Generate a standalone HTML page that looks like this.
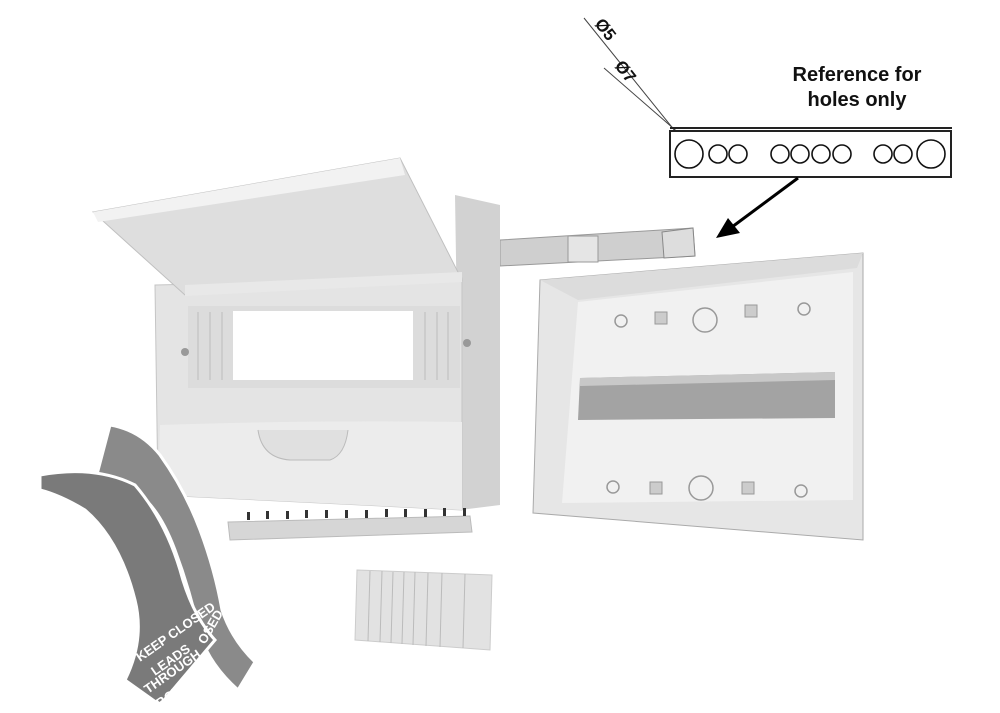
<!DOCTYPE html>
<html><head><meta charset="utf-8"><style>
html,body{margin:0;padding:0;background:#fff;}
svg{display:block;}
text{font-family:"Liberation Sans",sans-serif;}
</style></head><body>
<svg width="1000" height="713" viewBox="0 0 1000 713" xmlns="http://www.w3.org/2000/svg">
<!-- hole reference -->
<line x1="584" y1="18" x2="700" y2="162" stroke="#444" stroke-width="1"/>
<line x1="604" y1="68" x2="712" y2="162" stroke="#444" stroke-width="1"/>
<text x="594" y="24" font-size="17" font-weight="bold" transform="rotate(52 594 24)" fill="#111">Ø5</text>
<text x="614" y="66" font-size="17" font-weight="bold" transform="rotate(52 614 66)" fill="#111">Ø7</text>
<text x="857" y="81" font-size="20" font-weight="bold" text-anchor="middle" fill="#111">Reference for</text>
<text x="857" y="106" font-size="20" font-weight="bold" text-anchor="middle" fill="#111">holes only</text>
<line x1="670" y1="128" x2="952" y2="128" stroke="#222" stroke-width="2"/>
<rect x="670" y="131" width="281" height="46" fill="#fff" stroke="#222" stroke-width="2"/>
<g fill="none" stroke="#111" stroke-width="1.6">
<circle cx="689" cy="154" r="14"/><circle cx="718" cy="154" r="9"/><circle cx="738" cy="154" r="9"/>
<circle cx="780" cy="154" r="9"/><circle cx="800" cy="154" r="9"/><circle cx="821" cy="154" r="9"/><circle cx="842" cy="154" r="9"/>
<circle cx="883" cy="154" r="9"/><circle cx="903" cy="154" r="9"/><circle cx="931" cy="154" r="14"/>
</g>
<line x1="798" y1="178" x2="732" y2="227" stroke="#000" stroke-width="3"/>
<polygon points="716,238 728,218 740,233" fill="#000"/>
<!-- busbar -->
<polygon points="500,240 693,228 695,256 500,266" fill="#cfcfcf" stroke="#999"/>
<rect x="568" y="236" width="30" height="26" fill="#e5e5e5" stroke="#999"/>
<polygon points="662,232 693,228 695,256 664,258" fill="#ddd" stroke="#888"/>
<!-- left enclosure body -->
<polygon points="455,195 500,205 500,505 460,510" fill="#d2d2d2"/>
<polygon points="155,285 462,278 462,510 158,495" fill="#e4e4e4" stroke="#c5c5c5"/>
<path d="M160,425 Q300,420 462,422 L462,510 L158,495 Z" fill="#ececec"/>
<rect x="188" y="306" width="272" height="82" fill="#dcdcdc"/>
<rect x="233" y="311" width="180" height="69" fill="#fff"/>
<g stroke="#bbb"><line x1="198" y1="312" x2="198" y2="380"/><line x1="210" y1="312" x2="210" y2="380"/><line x1="222" y1="312" x2="222" y2="380"/>
<line x1="425" y1="312" x2="425" y2="380"/><line x1="437" y1="312" x2="437" y2="380"/><line x1="448" y1="312" x2="448" y2="380"/></g>
<path d="M258,430 Q262,458 290,460 L330,460 Q345,455 348,430" fill="#e0e0e0" stroke="#bbb"/>
<circle cx="185" cy="352" r="4" fill="#999"/><circle cx="467" cy="343" r="4" fill="#999"/>
<!-- lid -->
<polygon points="93,212 400,158 462,280 185,295" fill="#dedede" stroke="#c0c0c0"/>
<polygon points="93,212 400,158 405,175 98,222" fill="#f2f2f2"/>
<polygon points="185,285 462,272 462,282 185,296" fill="#e8e8e8"/>
<!-- comb busbar -->
<polygon points="228,522 470,516 472,532 230,540" fill="#d6d6d6" stroke="#bbb"/>
<g fill="#333"><rect x="247" y="512" width="3" height="8"/><rect x="266" y="511" width="3" height="8"/><rect x="286" y="511" width="3" height="8"/><rect x="305" y="510" width="3" height="8"/><rect x="325" y="510" width="3" height="8"/><rect x="345" y="510" width="3" height="8"/><rect x="365" y="510" width="3" height="8"/><rect x="385" y="509" width="3" height="8"/><rect x="404" y="509" width="3" height="8"/><rect x="424" y="509" width="3" height="8"/><rect x="443" y="508" width="3" height="8"/><rect x="463" y="508" width="3" height="8"/></g>
<!-- blank strip -->
<polygon points="357,570 492,575 490,650 355,640" fill="#e2e2e2" stroke="#ccc"/>
<g stroke="#bbb"><line x1="370" y1="571" x2="368" y2="641"/><line x1="382" y1="571" x2="380" y2="642"/><line x1="393" y1="572" x2="391" y2="643"/><line x1="404" y1="572" x2="402" y2="644"/><line x1="415" y1="572" x2="413" y2="645"/><line x1="428" y1="573" x2="426" y2="646"/><line x1="442" y1="573" x2="440" y2="647"/><line x1="465" y1="574" x2="463" y2="648"/></g>
<!-- labels -->
<path d="M110,425 Q140,430 160,455 Q185,490 200,530 Q215,570 222,610 Q232,640 255,662 L238,690 Q210,665 200,635 Q190,590 175,550 Q160,510 140,495 Q120,485 95,482 Z" fill="#8a8a8a" stroke="#fff" stroke-width="3"/>
<path d="M40,475 Q95,465 135,485 Q165,520 180,570 Q192,615 215,640 L160,705 L125,680 Q145,640 135,600 Q120,540 85,510 Q60,495 40,490 Z" fill="#7a7a7a" stroke="#fff" stroke-width="3"/>
<g fill="#fff" font-size="13" font-weight="bold">
<text x="140" y="662" transform="rotate(-35 140 662)">KEEP CLOSED</text>
<text x="155" y="676" transform="rotate(-35 155 676)">LEADS</text>
<text x="148" y="694" transform="rotate(-35 148 694)">THROUGH</text>
<text x="160" y="708" transform="rotate(-35 160 708)">BOTTOM</text>
<text x="205" y="645" transform="rotate(-60 205 645)">OSED</text>
</g>
<!-- right base -->
<polygon points="540,280 863,253 863,540 533,513" fill="#e6e6e6" stroke="#aaa"/>
<polygon points="578,302 853,272 853,500 562,503" fill="#f1f1f1"/>
<polygon points="540,280 863,253 857,268 578,300" fill="#dcdcdc"/>
<polygon points="580,378 835,372 835,418 578,420" fill="#a3a3a3"/>
<polygon points="580,378 835,372 835,380 580,386" fill="#c8c8c8"/>
<g fill="none" stroke="#999" stroke-width="1.5">
<circle cx="621" cy="321" r="6"/><circle cx="804" cy="309" r="6"/><circle cx="613" cy="487" r="6"/><circle cx="801" cy="491" r="6"/>
<circle cx="705" cy="320" r="12"/><circle cx="701" cy="488" r="12"/></g>
<g fill="#ccc" stroke="#999"><rect x="655" y="312" width="12" height="12"/><rect x="745" y="305" width="12" height="12"/><rect x="650" y="482" width="12" height="12"/><rect x="742" y="482" width="12" height="12"/></g>
</svg>
</body></html>
